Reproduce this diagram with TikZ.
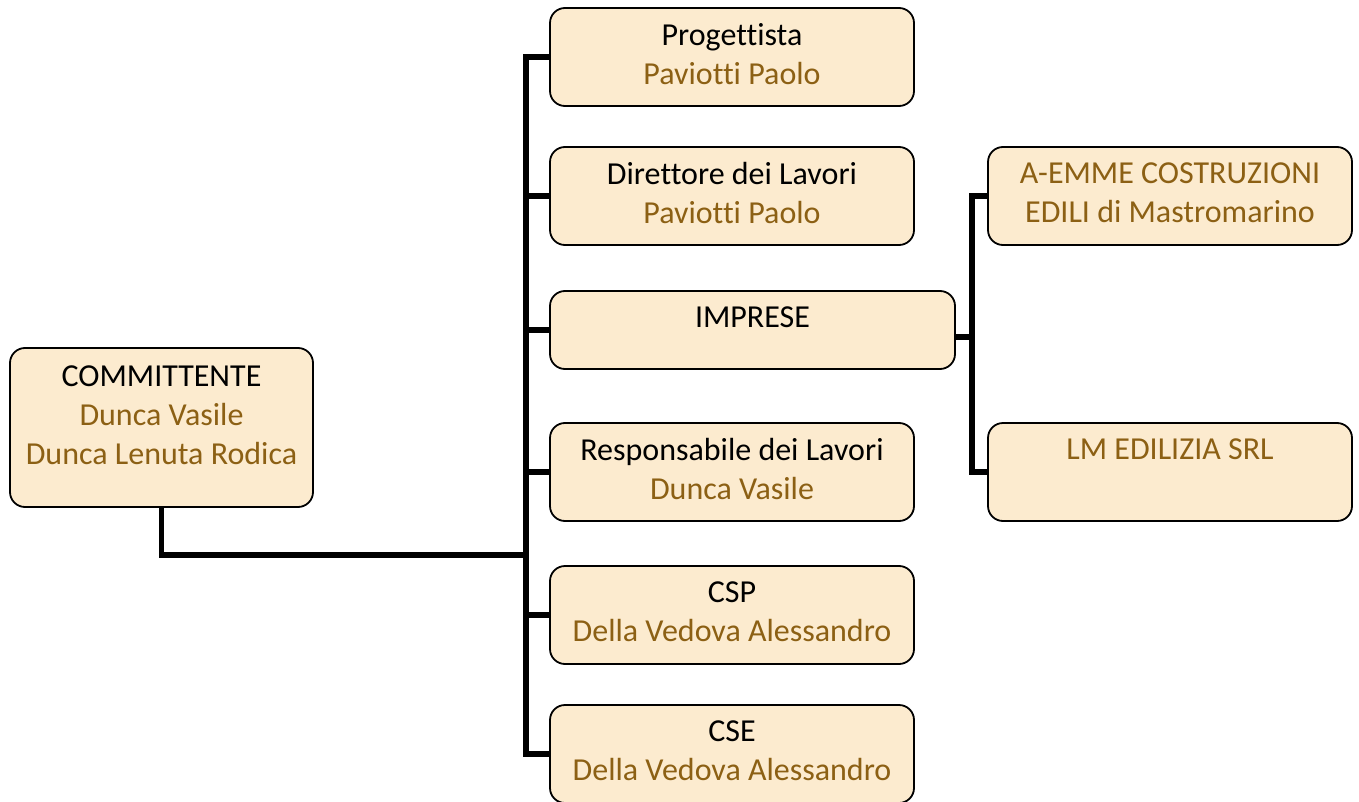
\documentclass[tikz,border=0pt]{standalone}
\usepackage{fontspec}
\setmainfont[Ligatures=NoCommon]{Carlito}
\usetikzlibrary{positioning}
\definecolor{fondo}{RGB}{252,235,207}
\definecolor{nome}{RGB}{140,96,20}

\tikzset{
  ruolo/.style={rectangle,rounded corners=7.5pt,draw,line width=0.9pt,fill=fondo,inner sep=0pt},
  testo/.style={anchor=north,align=center,inner sep=0pt,font=\fontsize{16}{19.5}\selectfont,yshift=-8pt},
  link/.style={line width=2.6pt}
}

\begin{document}
\begin{tikzpicture}[x=0.5pt,y=-0.5pt]
  \useasboundingbox (0,0) rectangle (1359,802);

  % caselle
  \node [ruolo,minimum width=151.5pt,minimum height=79.5pt] (comm) at (161.5,427.5) {};
  \node [ruolo,minimum width=182pt,minimum height=49pt] (prog) at (732,57) {};
  \node [ruolo,minimum width=182pt,minimum height=49pt] (dir) at (732,196) {};
  \node [ruolo,minimum width=202.5pt,minimum height=39pt] (imprese) at (752.5,330) {};
  \node [ruolo,minimum width=182pt,minimum height=49pt] (resp) at (732,472) {};
  \node [ruolo,minimum width=182pt,minimum height=49pt] (csp) at (732,615) {};
  \node [ruolo,minimum width=182pt,minimum height=49pt] (cse) at (732,754) {};
  \node [ruolo,minimum width=182pt,minimum height=49pt] (aemme) at (1170,196) {};
  \node [ruolo,minimum width=182pt,minimum height=49pt] (lm) at (1170,472) {};

  % testi
  \node [testo,yshift=-1pt] (comm-t) at (comm.north) {COMMITTENTE\\\textcolor{nome}{Dunca Vasile}\\\textcolor{nome}{Dunca Lenuta Rodica}};
  \node [testo] (prog-t) at (prog.north) {Progettista\\\textcolor{nome}{Paviotti Paolo}};
  \node [testo] (dir-t) at (dir.north) {Direttore dei Lavori\\\textcolor{nome}{Paviotti Paolo}};
  \node [testo] (imprese-t) at (imprese.north) {IMPRESE};
  \node [testo] (resp-t) at (resp.north) {Responsabile dei Lavori\\\textcolor{nome}{Dunca Vasile}};
  \node [testo] (csp-t) at (csp.north) {CSP\\\textcolor{nome}{Della Vedova Alessandro}};
  \node [testo] (cse-t) at (cse.north) {CSE\\\textcolor{nome}{Della Vedova Alessandro}};
  \node [testo,text=nome] (aemme-t) at (aemme.north) {A-EMME COSTRUZIONI\\EDILI di Mastromarino};
  \node [testo,text=nome] (lm-t) at (lm.north) {LM EDILIZIA SRL};

  % collegamenti
  \coordinate (nodo) at (526,555);
  \coordinate (snodo) at (972,337);
  \draw [link] (comm.south) |- (nodo);
  \draw [link] (prog.west) -| (nodo |- cse.west) -- (cse.west);
  \foreach \n in {dir,imprese,resp,csp}
    \draw [link] (nodo |- \n.west) -- (\n.west);
  \draw [link] (aemme.west) -| (snodo |- lm.west) -- (lm.west);
  \draw [link] (imprese.east |- snodo) -- (snodo);
\end{tikzpicture}
\end{document}
